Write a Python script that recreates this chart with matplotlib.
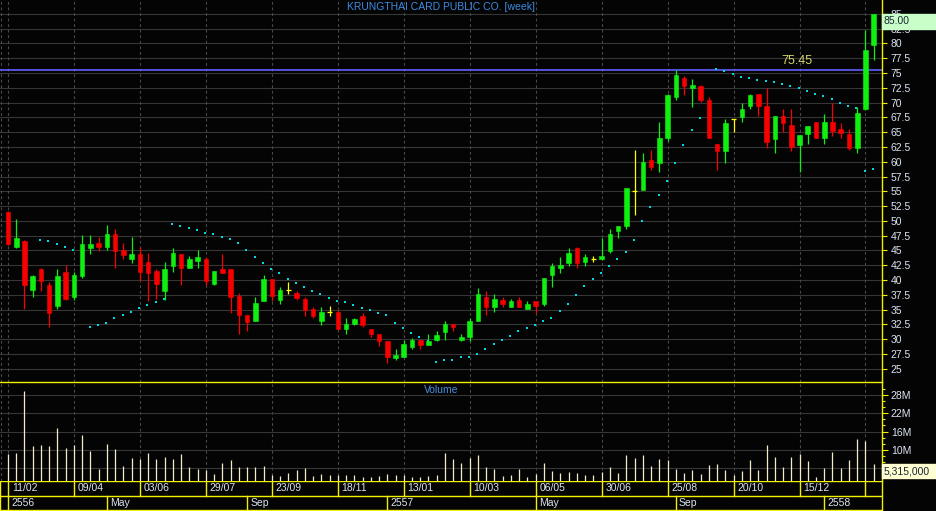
# KRUNGTHAI CARD 週足チャート（ローソク足＋パラボリックSAR＋出来高）
import numpy as np
import matplotlib.pyplot as plt
from matplotlib.patches import Rectangle
import matplotlib.transforms as mtransforms

plt.rcParams['font.family'] = ['Liberation Sans', 'DejaVu Sans']

# 週足データ（2013-02-11 から 106 本）
opens = [51.5, 45.6, 46.6, 38.3, 41.9, 39.1, 35.6, 41.3, 37.1, 40.7,
         45.4, 46.3, 45.6, 47.8, 45.1, 43.5, 44.4, 43.0, 41.6, 38.1,
         42.4, 44.4, 42.0, 43.2, 43.5, 39.3, 41.9, 41.9, 37.3, 34.1,
         33.1, 36.4, 40.2, 36.6, 38.3, 37.8, 36.8, 35.1, 33.1, 34.6,
         34.6, 31.7, 32.6, 33.9, 31.7, 30.9, 29.6, 26.8, 27.0, 28.6,
         29.8, 29.0, 29.8, 31.2, 32.6, 29.8, 30.3, 33.1, 37.1, 35.4,
         36.6, 35.4, 36.6, 35.1, 36.4, 35.9, 40.8, 42.0, 42.9, 45.4,
         43.0, 43.5, 43.5, 44.9, 48.3, 49.1, 55.0, 55.2, 60.3, 59.8,
         64.0, 70.9, 74.2, 72.5, 72.8, 70.4, 63.0, 61.8, 67.2, 67.6,
         69.4, 71.4, 69.4, 63.8, 67.7, 66.2, 62.8, 64.7, 66.7, 64.0,
         66.7, 65.5, 64.7, 62.3, 68.9, 79.8]
highs = [51.6, 50.3, 46.7, 40.8, 42.0, 39.7, 41.9, 42.5, 41.3, 47.6,
         47.6, 47.3, 49.3, 48.6, 46.3, 47.3, 45.6, 44.6, 41.9, 43.0,
         45.4, 44.4, 44.0, 45.1, 43.9, 41.5, 44.4, 41.9, 37.8, 34.1,
         37.1, 40.8, 40.2, 38.8, 39.7, 38.1, 37.1, 35.4, 35.4, 35.6,
         34.9, 33.6, 33.6, 34.4, 31.7, 30.9, 29.6, 28.3, 29.8, 30.2,
         29.8, 30.9, 31.4, 33.1, 32.6, 30.9, 33.6, 38.6, 38.1, 37.6,
         37.1, 36.8, 37.1, 36.4, 36.4, 40.3, 42.9, 43.9, 45.4, 45.6,
         44.4, 44.1, 47.1, 48.6, 49.1, 55.6, 61.9, 61.5, 62.0, 66.7,
         71.4, 75.5, 74.5, 74.0, 73.0, 70.9, 63.0, 67.2, 67.2, 69.9,
         71.4, 71.4, 72.5, 67.7, 68.9, 68.9, 64.5, 66.0, 66.7, 68.1,
         69.9, 66.5, 65.5, 69.3, 82.3, 85.0]
lows = [46.0, 45.4, 35.1, 37.1, 38.1, 32.0, 35.1, 36.6, 36.6, 40.3,
        44.4, 44.9, 45.1, 42.0, 43.5, 42.8, 39.8, 36.4, 36.8, 36.6,
        41.3, 39.1, 42.0, 42.0, 39.1, 39.1, 41.2, 34.4, 30.9, 31.4,
        33.1, 36.4, 36.4, 35.9, 37.6, 36.6, 33.9, 33.6, 32.4, 33.9,
        31.7, 30.9, 32.4, 32.0, 30.4, 28.9, 25.9, 26.5, 27.0, 28.3,
        28.3, 29.0, 29.7, 29.8, 31.4, 29.7, 29.7, 33.1, 34.1, 34.6,
        35.4, 35.4, 35.4, 35.1, 34.4, 35.6, 38.8, 41.2, 42.4, 42.0,
        42.4, 43.0, 43.4, 44.6, 47.1, 48.6, 51.0, 55.2, 58.6, 58.3,
        63.5, 70.4, 71.3, 69.3, 70.1, 64.0, 58.6, 59.8, 65.0, 66.7,
        68.9, 67.7, 62.3, 61.5, 65.0, 61.8, 58.3, 63.0, 64.0, 63.0,
        64.3, 64.0, 62.0, 61.5, 68.7, 77.2]
closes = [46.1, 47.1, 39.1, 40.7, 39.8, 34.4, 40.7, 36.8, 40.8, 46.1,
          46.1, 45.6, 47.8, 44.9, 44.2, 44.4, 41.3, 41.2, 39.3, 41.9,
          44.6, 42.0, 43.5, 43.9, 39.8, 41.5, 41.2, 37.1, 34.1, 32.9,
          36.1, 40.2, 37.3, 38.3, 38.3, 37.0, 34.9, 33.9, 34.6, 34.6,
          31.7, 32.6, 33.4, 32.4, 30.9, 29.6, 26.9, 27.3, 29.2, 29.8,
          29.0, 29.7, 30.7, 32.6, 32.0, 30.3, 33.1, 37.6, 35.4, 36.8,
          35.9, 36.4, 35.4, 35.9, 35.6, 40.3, 42.4, 42.5, 44.6, 42.9,
          43.9, 43.5, 44.1, 47.8, 49.1, 55.6, 55.0, 60.0, 59.1, 64.0,
          71.3, 74.7, 72.8, 73.0, 70.4, 64.0, 61.8, 66.5, 67.2, 68.9,
          71.3, 69.4, 63.3, 67.7, 66.5, 62.5, 64.5, 66.0, 64.0, 66.7,
          65.2, 64.9, 62.3, 68.2, 78.9, 85.0]

nan = np.nan
# パラボリックSAR（表示されていない週は nan）
sar = [nan, nan, nan, nan, 46.8, 46.6, 46.1, 45.6, 45.0, nan,
       32.1, 32.4, 32.8, 33.5, 34.1, 34.6, 35.3, 35.8, 36.3, 36.8,
       49.4, 49.2, 48.8, 48.5, 48.0, 47.7, 47.3, 47.0, 46.3, 45.1,
       43.9, 42.9, 41.9, 41.1, 40.2, 39.5, 38.9, 38.2, 37.7, 37.0,
       36.5, 36.2, 35.7, 35.3, 35.0, 34.5, 34.0, 32.8, 31.9, 31.1,
       30.4, 29.7, 26.2, 26.4, 26.5, 26.9, 27.0, 27.5, 28.4, 29.2,
       29.9, 30.6, 31.3, 31.9, 32.4, 33.0, 33.6, 34.8, 36.0, 37.5,
       39.0, 40.2, 41.2, 42.4, 43.6, 44.8, 46.8, 49.9, 52.4, 54.3,
       56.8, 59.8, 62.9, 65.4, 67.4, nan, 75.6, 75.3, 74.9, 74.4,
       74.1, 73.8, 73.6, 73.4, 73.1, 72.8, 72.4, 71.9, 71.4, 71.1,
       70.6, 69.9, 69.4, 69.1, 58.4, 58.7]

# 出来高（百万株）
volume_m = [8.8, 9.1, 29.3, 11.3, 11.7, 11.3, 17.2, 10.6, 11.6, 14.9,
            9.8, 3.8, 11.9, 10.3, 4.7, 7.4, 7.0, 9.0, 7.0, 7.7,
            7.0, 8.7, 4.4, 3.8, 3.4, 2.1, 5.7, 6.7, 4.4, 4.4,
            4.4, 4.7, 1.8, 1.5, 2.5, 3.4, 4.1, 1.5, 2.1, 1.8,
            1.8, 1.8, 1.8, 1.1, 1.1, 1.5, 2.1, 1.8, 1.8, 1.1,
            1.1, 1.5, 1.8, 9.0, 7.0, 5.7, 7.4, 8.3, 4.4, 3.8,
            1.5, 1.8, 3.8, 1.1, 2.1, 5.7, 3.1, 2.5, 2.8, 2.5,
            1.8, 1.8, 2.8, 4.4, 2.5, 8.3, 7.4, 8.3, 4.7, 7.0,
            6.7, 3.8, 2.5, 3.4, 2.1, 5.1, 5.4, 3.4, 1.8, 3.1,
            6.7, 3.4, 11.6, 7.7, 4.4, 7.7, 8.7, 6.4, 1.1, 4.1,
            9.3, 4.1, 6.7, 13.6, 12.9, 5.315]

# 日付ラベル（8週ごと）と期間ラベル
week_labels = ['11/02', '09/04', '03/06', '29/07', '23/09', '18/11', '13/01',
               '10/03', '06/05', '30/06', '25/08', '20/10', '15/12']
label_step = 8
period_weeks = [0, 12, 29, 46, 64, 81, 99]
period_labels = ['2556', 'May', 'Sep', '2557', 'May', 'Sep', '2558']

resistance = 75.45
price_ticks = np.arange(25, 85.01, 2.5)
vol_major = [4, 10, 16, 22, 28]
vol_minor = np.arange(2, 31, 2)

# レイアウト（ピクセル）
W, H = 937, 511
PX = 882
SP = 8.245  # 1本あたりのピクセル
BG = '#040404'
YEL = '#f0f000'
GRID = '#363636'
TXT = '#dce4f0'

fig = plt.figure(figsize=(W / 100, H / 100), dpi=100, facecolor=BG)


def add_panel(top, bottom):
    a = fig.add_axes([0, 1 - bottom / H, PX / W, (bottom - top) / H])
    a.set_facecolor(BG)
    for s in ['left', 'top', 'bottom']:
        a.spines[s].set_visible(False)
    a.spines['right'].set_color(YEL)
    a.spines['right'].set_linewidth(1.0)
    a.set_xlim(-8 / SP, (PX - 8) / SP)
    a.set_xticks([])
    return a


ax = add_panel(0, 382)
axv = add_panel(382, 480.5)
axd = add_panel(480.5, 511)

n = len(closes)
x = np.arange(n)
o, h, l, c = map(np.array, (opens, highs, lows, closes))
vlines_x = np.arange(0, n, label_step)

# 価格パネル
ax.set_ylim(22.75, 87.35)
for v in price_ticks:
    ax.axhline(v, color=GRID, lw=0.8, zorder=0)
for a in (ax, axv):
    for xv in list(vlines_x) + [a.get_xlim()[0] + 0.08]:
        a.axvline(xv, color='#4a4a4a', lw=0.8, ls=(0, (2.5, 2.5)), zorder=0)

ax.axhline(resistance, color='#6060ff', lw=1.2, zorder=1)
ax.text(95.7, resistance + 1.6, f'{resistance:.2f}', color='#d6d66a',
        fontsize=9, ha='center', va='center')

col = np.where(c > o, '#10f010', np.where(c < o, '#f80000', '#ffff00'))
ax.vlines(x, l, h, colors=col, lw=0.9, zorder=2)
body = np.abs(c - o) > 0
ax.bar(x[body], np.abs(c - o)[body], 0.55, bottom=np.minimum(o, c)[body],
       color=col[body], edgecolor=col[body], lw=0.4, zorder=3)
doji = ~body
ax.hlines(c[doji], x[doji] - 0.32, x[doji] + 0.32, colors='#ffff00', lw=0.9, zorder=3)

ax.plot(x - 0.1, sar, ls='none', marker='s', ms=1.6, mew=0, color='#00d8e4', zorder=2)

ax.text(0.5, 1 - 7 / 382, 'KRUNGTHAI CARD PUBLIC CO. [week]', transform=ax.transAxes,
        ha='center', va='center', color='#3c8ce6', fontsize=7.5)

ax.yaxis.tick_right()
ax.set_yticks(price_ticks)
ax.set_yticklabels([f'{v:g}' for v in price_ticks])
ax.tick_params(axis='y', color=YEL, labelcolor=TXT, length=3.6, width=0.8,
               pad=2.6, labelsize=7.5)

# 最終値ボックス
tr = mtransforms.blended_transform_factory(ax.transAxes, ax.transData)
box_h = 15 / (382 / (87.35 - 22.75))
ax.add_patch(Rectangle((1.0, closes[-1] - box_h), 55 / PX, box_h, transform=tr,
                       color='#c8ffc8', clip_on=False, zorder=10))
ax.text(1.0 + 1.5 / PX, closes[-1] - box_h / 2, f'{closes[-1]:.2f}', transform=tr,
        ha='left', va='center', color='#1a2434', fontsize=7.5, zorder=11, clip_on=False)

# 出来高パネル
vmax = 32.23
axv.set_ylim(0, vmax)
for v in vol_major:
    axv.axhline(v, color=GRID, lw=0.8, zorder=0)
axv.vlines(x, 0, volume_m, colors='#f4ecc8', lw=0.9, zorder=2)
axv.spines['top'].set_visible(True)
axv.spines['top'].set_color(YEL)
axv.spines['top'].set_linewidth(1.0)
axv.text(0.5, 1 - 8 / 98.5, 'Volume', transform=axv.transAxes, ha='center',
         va='center', color='#4a90e2', fontsize=7.5)

axv.yaxis.tick_right()
axv.set_yticks(vol_major)
axv.set_yticklabels(['' if v == 4 else f'{v}M' for v in vol_major])
axv.set_yticks(vol_minor, minor=True)
axv.tick_params(axis='y', which='major', color=YEL, labelcolor=TXT, length=4.2,
                width=0.8, pad=2.2, labelsize=7.5)
axv.tick_params(axis='y', which='minor', color=YEL, length=2.4, width=0.8)

trv = mtransforms.blended_transform_factory(axv.transAxes, axv.transData)
vbox_h = 14 / (98.5 / vmax)
axv.add_patch(Rectangle((1.0, volume_m[-1] - vbox_h), 55 / PX, vbox_h, transform=trv,
                        color='#ffffd2', clip_on=False, zorder=10))
axv.text(1.0 + 1.5 / PX, volume_m[-1] - vbox_h / 2, f'{int(round(volume_m[-1] * 1e6)):,}',
         transform=trv, ha='left', va='center', color='#1a2434', fontsize=7.5,
         zorder=11, clip_on=False)

# 日付軸
axd.set_ylim(0, 30.5)
axd.set_yticks([])
for yv in (30.1, 15.0, 1.0):
    axd.axhline(yv, color=YEL, lw=1.0)
left_edge = axd.get_xlim()[0] + 0.06
for xv in [left_edge] + list(vlines_x):
    axd.plot([xv, xv], [15.0, 30.1], color=YEL, lw=1.0)
for k, lab in enumerate(week_labels):
    axd.text(k * label_step + 3.8 / SP, 22.8, lab, color=TXT, fontsize=7.5,
             ha='left', va='center')
for xv in [left_edge] + period_weeks:
    axd.plot([xv, xv], [1.0, 15.0], color=YEL, lw=1.0)
for wk, lab in zip(period_weeks, period_labels):
    axd.text(wk + 3.0 / SP, 7.8, lab, color=TXT, fontsize=7.5, ha='left', va='center')

fig.savefig('out.png', dpi=100, facecolor=BG)
